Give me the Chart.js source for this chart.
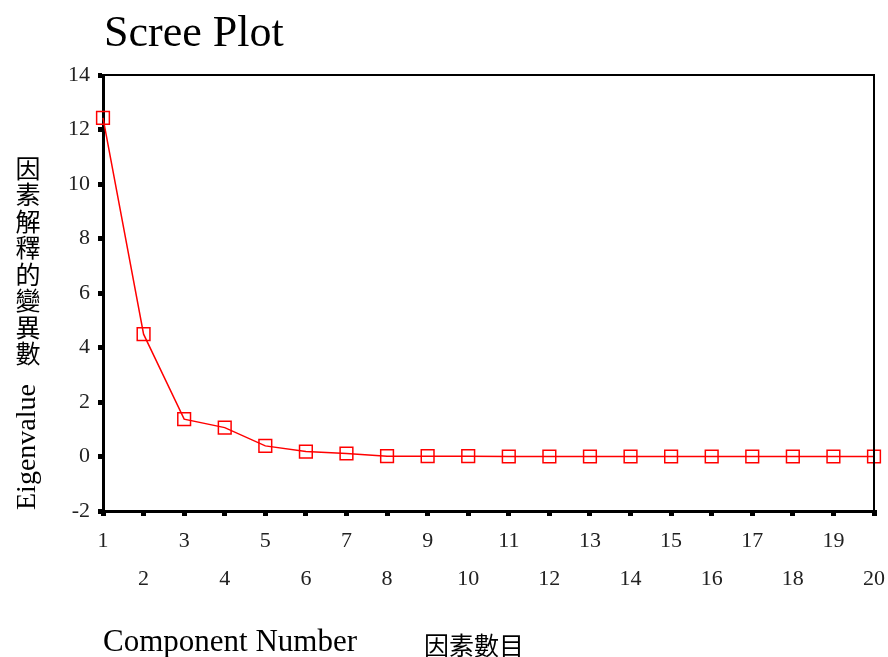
<!DOCTYPE html>
<html lang="zh-Hant">
<head>
    <meta charset="UTF-8">
    <title>Scree Plot</title>
    <style>
        body {
            margin: 0;
            padding: 0;
            background-color: #fff;
        }
        #screeChart {
            display: block;
        }
    </style>
</head>
<body>

    <canvas id="screeChart" width="888" height="657"></canvas>

    <script src="https://cdn.jsdelivr.net/npm/chart.js"></script>
    <script>
        // Component numbers and their eigenvalues
        const components = ['1', '2', '3', '4', '5', '6', '7', '8', '9', '10',
                            '11', '12', '13', '14', '15', '16', '17', '18', '19', '20'];
        const eigenvalues = [12.43, 4.49, 1.37, 1.06, 0.39, 0.18, 0.11, 0.01, 0.01, 0.01,
                             0, 0, 0, 0, 0, 0, 0, 0, 0, 0];
        const yTicks = [-2, 0, 2, 4, 6, 8, 10, 12, 14];

        const serif = '"Liberation Serif", "Times New Roman", "Noto Sans CJK TC", serif';
        const cjk = '"Noto Sans CJK TC", "Liberation Serif", serif';

        // Frame, title and axis titles drawn around the plot area
        const decorations = {
            id: 'decorations',
            afterDraw(chart) {
                const c = chart.ctx;
                const a = chart.chartArea;
                c.save();

                // top and right edges of the frame
                c.strokeStyle = '#000';
                c.lineWidth = 2;
                c.beginPath();
                c.moveTo(a.left, a.top);
                c.lineTo(a.right, a.top);
                c.lineTo(a.right, a.bottom);
                c.stroke();

                c.fillStyle = '#000';
                c.textBaseline = 'alphabetic';
                c.textAlign = 'left';
                c.font = '44px ' + serif;
                c.fillText('Scree Plot', a.left + 1, 46);

                // x axis title
                c.font = '31px ' + serif;
                c.fillText('Component Number', a.left, 651);
                c.font = '25px ' + cjk;
                c.fillText('因素數目', 424, 655);

                // y axis title: stacked Chinese, then rotated English
                const zh = '因素解釋的變異數';
                c.font = '25px ' + cjk;
                c.textAlign = 'center';
                c.textBaseline = 'middle';
                for (let i = 0; i < zh.length; i++) {
                    c.fillText(zh[i], 28, 168 + i * 26.5);
                }
                c.translate(28, 510);
                c.rotate(-Math.PI / 2);
                c.textAlign = 'left';
                c.font = '28px ' + serif;
                c.fillText('Eigenvalue', 0, 0);

                c.restore();
            }
        };

        const ctx = document.getElementById('screeChart').getContext('2d');

        const config = {
            type: 'line',
            data: {
                labels: components,
                datasets: [{
                    data: eigenvalues,
                    borderColor: '#ff0000',
                    borderWidth: 1.5,
                    pointStyle: 'rect',
                    pointRadius: 9,
                    pointBorderWidth: 1.5,
                    pointBorderColor: '#ff0000',
                    pointBackgroundColor: 'rgba(255,255,255,0)',
                    tension: 0
                }]
            },
            options: {
                responsive: false,
                animation: false,
                layout: {
                    padding: { top: 75, right: 14, left: 0, bottom: 0 }
                },
                plugins: {
                    legend: { display: false },
                    tooltip: { enabled: false }
                },
                scales: {
                    x: {
                        offset: false,
                        afterFit(scale) {
                            scale.height = 146;
                            // let the layout padding alone decide the right edge
                            scale.paddingLeft = 0;
                            scale.paddingRight = 0;
                        },
                        border: { color: '#000', width: 3 },
                        grid: {
                            drawOnChartArea: false,
                            drawTicks: true,
                            tickLength: 5,
                            lineWidth: 5,
                            color: '#000'
                        },
                        ticks: {
                            autoSkip: false,
                            maxRotation: 0,
                            padding: 6,
                            color: '#222',
                            font: { family: serif, size: 22, lineHeight: 1.72 },
                            // odd numbers on the first row, even on the second
                            callback(value, index) {
                                const label = components[index];
                                return index % 2 === 0 ? [label, ''] : ['', label];
                            }
                        }
                    },
                    y: {
                        min: -2,
                        max: 14,
                        afterFit(scale) { scale.width = 103; },
                        afterBuildTicks(scale) {
                            scale.ticks = yTicks.map(v => ({ value: v }));
                        },
                        border: { color: '#000', width: 3 },
                        grid: {
                            drawOnChartArea: false,
                            drawTicks: true,
                            tickLength: 5,
                            lineWidth: 5,
                            color: '#000'
                        },
                        ticks: {
                            padding: 8,
                            color: '#222',
                            font: { family: serif, size: 22 }
                        }
                    }
                }
            },
            plugins: [decorations]
        };

        const screeChart = new Chart(ctx, config);
    </script>

</body>
</html>
